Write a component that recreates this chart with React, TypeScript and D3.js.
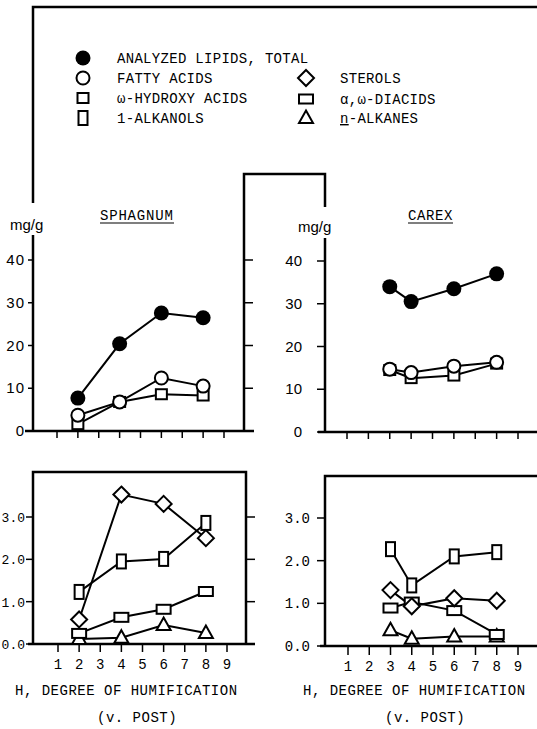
import React from 'react';
import * as d3 from 'd3';

// degree of humification (v. Post) sampled for each peat
const hSphagnum = [2, 4, 6, 8];
const hCarex = [3, 4, 6, 8];
const hTicks = [1, 2, 3, 4, 5, 6, 7, 8, 9];

// upper panels, mg/g
const sphTotal = [7.7, 20.4, 27.6, 26.5];
const sphFatty = [3.7, 6.8, 12.4, 10.5];
const sphHydroxy = [1.6, 6.8, 8.6, 8.3];
const carexTotal = [34.0, 30.5, 33.5, 37.0];
const carexFatty = [14.7, 13.9, 15.4, 16.3];
const carexHydroxy = [14.5, 12.6, 13.2, 16.0];
const upperTicks = [0, 10, 20, 30, 40];

// lower panels, mg/g
const sphSterols = [0.58, 3.53, 3.31, 2.5];
const sphAlkanols = [1.23, 1.95, 2.01, 2.86];
const sphDiacids = [0.25, 0.63, 0.82, 1.24];
const sphAlkanes = [0.12, 0.15, 0.45, 0.26];
const carexSterols = [1.31, 0.93, 1.12, 1.06];
const carexAlkanols = [2.27, 1.42, 2.1, 2.2];
const carexDiacids = [0.89, 1.03, 0.83, 0.27];
const carexAlkanes = [0.37, 0.17, 0.22, 0.22];
const lowerTicks = [0, 1, 2, 3];
const lowerTickLabels = ['0.0', '1.0', '2.0', '3.0'];

const MONO = '"Liberation Mono", "DejaVu Sans Mono", monospace';
const SANS = '"Liberation Sans", Arial, sans-serif';

type Shape = 'dot' | 'circle' | 'square' | 'tall' | 'wide' | 'diamond' | 'triangle';

const Marker = ({ shape, x, y }: { shape: Shape; x: number; y: number }) => {
  const common = { stroke: '#000', strokeWidth: 2, fill: '#fff' };
  if (shape === 'dot') return <circle cx={x} cy={y} r={7.5} fill="#000" />;
  if (shape === 'circle') return <circle cx={x} cy={y} r={6.5} {...common} />;
  if (shape === 'square') return <rect x={x - 5.5} y={y - 5} width={11} height={10} {...common} />;
  if (shape === 'tall') return <rect x={x - 4.5} y={y - 7} width={9} height={14} {...common} />;
  if (shape === 'wide') return <rect x={x - 7} y={y - 4.5} width={14} height={9} {...common} />;
  if (shape === 'diamond')
    return <polygon points={`${x},${y - 8} ${x + 8},${y} ${x},${y + 8} ${x - 8},${y}`} {...common} />;
  return <polygon points={`${x},${y - 7.5} ${x + 7},${y + 5} ${x - 7},${y + 5}`} {...common} />;
};

type Series = { values: number[]; shape: Shape };

const Panel = ({
  xs,
  series,
  x,
  y,
}: {
  xs: number[];
  series: Series[];
  x: d3.ScaleLinear<number, number>;
  y: d3.ScaleLinear<number, number>;
}) => {
  const line = d3
    .line<number>()
    .x((_, i) => x(xs[i]))
    .y((d) => y(d));
  return (
    <g>
      {series.map((s, i) => (
        <path key={'l' + i} d={line(s.values) || ''} fill="none" stroke="#000" strokeWidth={2} />
      ))}
      {series.map((s, i) =>
        s.values.map((v, j) => <Marker key={'m' + i + '-' + j} shape={s.shape} x={x(xs[j])} y={y(v)} />)
      )}
    </g>
  );
};

const App = () => {
  // scales per panel
  const xSphU = d3.scaleLinear().domain([1, 9]).range([57, 224]);
  const ySphU = d3.scaleLinear().domain([0, 40]).range([431, 260]);
  const xCarU = d3.scaleLinear().domain([1, 9]).range([347, 518]);
  const yCarU = d3.scaleLinear().domain([0, 40]).range([432, 261]);
  const xSphL = d3.scaleLinear().domain([1, 9]).range([58, 227]);
  const ySphL = d3.scaleLinear().domain([0, 3]).range([644, 517]);
  const xCarL = d3.scaleLinear().domain([1, 9]).range([348, 518]);
  const yCarL = d3.scaleLinear().domain([0, 3]).range([646, 518]);

  const legendRows: { shape: Shape; label: React.ReactNode; x: number; y: number }[] = [
    { shape: 'dot', label: 'ANALYZED LIPIDS, TOTAL', x: 83, y: 58 },
    { shape: 'circle', label: 'FATTY ACIDS', x: 83, y: 78 },
    { shape: 'square', label: 'ω-HYDROXY ACIDS', x: 83, y: 98 },
    { shape: 'tall', label: '1-ALKANOLS', x: 83, y: 118 },
    { shape: 'diamond', label: 'STEROLS', x: 306, y: 78 },
    { shape: 'wide', label: 'α,ω-DIACIDS', x: 306, y: 99 },
    {
      shape: 'triangle',
      label: (
        <>
          <tspan textDecoration="underline">n</tspan>-ALKANES
        </>
      ),
      x: 306,
      y: 118,
    },
  ];

  const axisStroke = { stroke: '#000', strokeWidth: 2.5, fill: 'none' };

  return (
    <svg width={537} height={729} style={{ position: 'absolute', left: 0, top: 0, background: '#fff' }}>
      {/* legend frame and the outline that runs into the panels */}
      <path d="M33,203 V7 H537" {...axisStroke} />
      <path d="M244,431 V174 H325 V207" {...axisStroke} />

      {legendRows.map((r, i) => (
        <g key={i}>
          <Marker shape={r.shape} x={r.x} y={r.y} />
          <text x={r.x + 34} y={r.y + 5} fontFamily={MONO} fontSize={14} letterSpacing={0.3}>
            {r.label}
          </text>
        </g>
      ))}

      {/* ---------- SPHAGNUM upper ---------- */}
      <text x={100} y={220} fontFamily={MONO} fontSize={14} letterSpacing={0.8}>
        SPHAGNUM
      </text>
      <line x1={100} x2={174} y1={223} y2={223} stroke="#000" strokeWidth={1.2} />
      <text x={10} y={230} fontFamily={SANS} fontSize={15}>
        mg/g
      </text>
      <path d="M33,235 V431" {...axisStroke} />
      <line x1={25} x2={254} y1={431} y2={431} stroke="#000" strokeWidth={2.5} />
      {upperTicks.map((t) => (
        <g key={t}>
          <line x1={28} x2={33} y1={ySphU(t)} y2={ySphU(t)} stroke="#000" strokeWidth={1.5} />
          {t > 0 && <line x1={244} x2={253} y1={ySphU(t)} y2={ySphU(t)} stroke="#000" strokeWidth={1.5} />}
          <text x={25} y={ySphU(t) + 5} textAnchor="end" fontFamily={SANS} fontSize={15} letterSpacing={1}>
            {t}
          </text>
        </g>
      ))}
      {hTicks.map((t) => (
        <line key={t} x1={xSphU(t)} x2={xSphU(t)} y1={431} y2={438} stroke="#000" strokeWidth={1.5} />
      ))}
      <Panel
        xs={hSphagnum}
        x={xSphU}
        y={ySphU}
        series={[
          { values: sphTotal, shape: 'dot' },
          { values: sphHydroxy, shape: 'square' },
          { values: sphFatty, shape: 'circle' },
        ]}
      />

      {/* ---------- CAREX upper ---------- */}
      <text x={408} y={220} fontFamily={MONO} fontSize={14} letterSpacing={0.6}>
        CAREX
      </text>
      <line x1={408} x2={453} y1={223} y2={223} stroke="#000" strokeWidth={1.2} />
      <text x={298} y={232} fontFamily={SANS} fontSize={15}>
        mg/g
      </text>
      <path d="M325,238 V432" {...axisStroke} />
      <line x1={318} x2={537} y1={432} y2={432} stroke="#000" strokeWidth={2.5} />
      {upperTicks.map((t) => (
        <g key={t}>
          <line x1={317} x2={325} y1={yCarU(t)} y2={yCarU(t)} stroke="#000" strokeWidth={1.5} />
          <text x={302} y={yCarU(t) + 5} textAnchor="end" fontFamily={SANS} fontSize={15}>
            {t}
          </text>
        </g>
      ))}
      {hTicks.map((t) => (
        <line key={t} x1={xCarU(t)} x2={xCarU(t)} y1={432} y2={439} stroke="#000" strokeWidth={1.5} />
      ))}
      <Panel
        xs={hCarex}
        x={xCarU}
        y={yCarU}
        series={[
          { values: carexTotal, shape: 'dot' },
          { values: carexHydroxy, shape: 'square' },
          { values: carexFatty, shape: 'circle' },
        ]}
      />

      {/* ---------- SPHAGNUM lower ---------- */}
      <path d="M33,644 V472 H246 V644" {...axisStroke} />
      <line x1={28} x2={255} y1={644} y2={644} stroke="#000" strokeWidth={2.5} />
      {lowerTicks.map((t, i) => (
        <g key={t}>
          <line x1={26} x2={33} y1={ySphL(t)} y2={ySphL(t)} stroke="#000" strokeWidth={1.5} />
          {t > 0 && <line x1={246} x2={255} y1={ySphL(t)} y2={ySphL(t)} stroke="#000" strokeWidth={1.5} />}
          <text x={25} y={ySphL(t) + 5} textAnchor="end" fontFamily={MONO} fontSize={13}>
            {lowerTickLabels[i]}
          </text>
        </g>
      ))}
      {hTicks.map((t) => (
        <g key={t}>
          <line x1={xSphL(t)} x2={xSphL(t)} y1={644} y2={652} stroke="#000" strokeWidth={1.5} />
          <text x={xSphL(t)} y={669} textAnchor="middle" fontFamily={MONO} fontSize={14}>
            {t}
          </text>
        </g>
      ))}
      <Panel
        xs={hSphagnum}
        x={xSphL}
        y={ySphL}
        series={[
          { values: sphAlkanes, shape: 'triangle' },
          { values: sphDiacids, shape: 'wide' },
          { values: sphAlkanols, shape: 'tall' },
          { values: sphSterols, shape: 'diamond' },
        ]}
      />
      <text x={15} y={695} fontFamily={MONO} fontSize={14} letterSpacing={0.5}>
        H, DEGREE OF HUMIFICATION
      </text>
      <text x={97} y={722} fontFamily={MONO} fontSize={14} letterSpacing={0.5}>
        (v. POST)
      </text>

      {/* ---------- CAREX lower ---------- */}
      <path d="M325,646 V476 H537" {...axisStroke} />
      <line x1={320} x2={537} y1={646} y2={646} stroke="#000" strokeWidth={2.5} />
      {lowerTicks.map((t, i) => (
        <g key={t}>
          <line x1={317} x2={325} y1={yCarL(t)} y2={yCarL(t)} stroke="#000" strokeWidth={1.5} />
          <text x={310} y={yCarL(t) + 5} textAnchor="end" fontFamily={MONO} fontSize={14}>
            {lowerTickLabels[i]}
          </text>
        </g>
      ))}
      {hTicks.map((t) => (
        <g key={t}>
          <line x1={xCarL(t)} x2={xCarL(t)} y1={646} y2={655} stroke="#000" strokeWidth={1.5} />
          <text x={xCarL(t)} y={671} textAnchor="middle" fontFamily={MONO} fontSize={14}>
            {t}
          </text>
        </g>
      ))}
      <Panel
        xs={hCarex}
        x={xCarL}
        y={yCarL}
        series={[
          { values: carexAlkanes, shape: 'triangle' },
          { values: carexDiacids, shape: 'wide' },
          { values: carexAlkanols, shape: 'tall' },
          { values: carexSterols, shape: 'diamond' },
        ]}
      />
      <text x={303} y={695} fontFamily={MONO} fontSize={14} letterSpacing={0.5}>
        H, DEGREE OF HUMIFICATION
      </text>
      <text x={385} y={722} fontFamily={MONO} fontSize={14} letterSpacing={0.5}>
        (v. POST)
      </text>
    </svg>
  );
};

export default App;
